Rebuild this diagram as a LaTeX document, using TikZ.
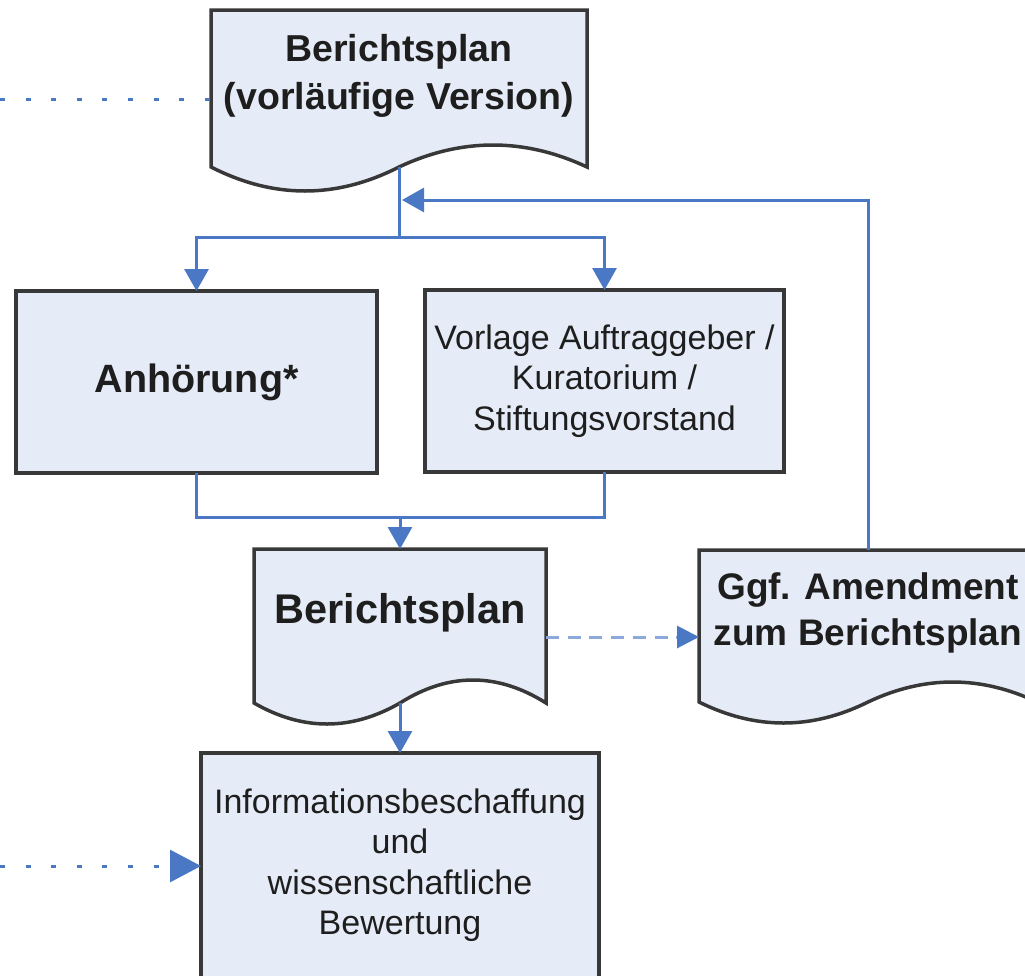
\documentclass[tikz,border=0pt]{standalone}
\usepackage{fontspec}
\setmainfont{Liberation Sans}
\usetikzlibrary{arrows.meta,calc}
\definecolor{boxfill}{HTML}{E6ECF7}
\definecolor{boxline}{HTML}{383838}
\definecolor{conn}{HTML}{4A78C4}
\definecolor{connlight}{HTML}{8DA9DB}
\definecolor{txt}{HTML}{1E1E1E}
\newcommand\docpath[4]{%
  \draw[docline] (#1.north west) -- (#1.north east) -- (#1.south east)
    .. controls ($(#1.south east)+(-#2/6,-#3*4/3)$) and ($(#1.south east)+(-#2/3,-#3*4/3)$) .. (#1.south)
    .. controls ($(#1.south)+(-#2/6,#4*4/3)$) and ($(#1.south)+(-#2/3,#4*4/3)$) .. (#1.south west) -- cycle;}
\begin{document}
\begin{tikzpicture}[x=1pt,y=-1pt,
  shapebox/.style={rectangle, inner sep=0pt, outer sep=0pt},
  procbox/.style={rectangle, draw=boxline, fill=boxfill, line width=3.5pt, inner sep=0pt, outer sep=0pt, align=center, text=txt},
  docline/.style={draw=boxline, fill=boxfill, line width=3.5pt},
  boldtxt/.style={font=\fontsize{37.5}{48}\selectfont\bfseries, align=center, text=txt, inner sep=0pt},
  regtxt/.style={font=\fontsize{34}{40.5}\selectfont, align=center, text=txt, inner sep=0pt},
  flow/.style={draw=conn, line width=3pt},
  flowarr/.style={flow, -{Triangle[length=22pt,width=24pt]}},
  dotline/.style={draw=conn, line width=3pt, dash pattern=on 5pt off 20.6pt},
  dotarr/.style={dotline, -{Triangle[length=31pt,width=32pt]}},
  dasharr/.style={draw=connlight, line width=3pt, dash pattern=on 13pt off 8.7pt, -{Triangle[length=22pt,width=22pt,color=conn]}}
]
\useasboundingbox (0,0) rectangle (1025,975);

% top document
\node[shapebox, minimum width=376pt, minimum height=157pt] (prelim) at (399,88.5) {};
\docpath{prelim}{376}{22}{24}
\node[boldtxt] (prelimtext) at (399,76) {Berichtsplan\\(vorläufige Version)};

% two process boxes
\node[procbox, minimum width=361pt, minimum height=182pt, font=\fontsize{39.5}{48}\selectfont\bfseries] (anh) at (196.5,382) {Anhörung*};
\node[procbox, minimum width=359pt, minimum height=182pt, font=\fontsize{34}{40.5}\selectfont] (vorl) at (604.5,381) {Vorlage Auftraggeber /\\Kuratorium /\\Stiftungsvorstand};

% Berichtsplan document
\node[shapebox, minimum width=292pt, minimum height=154pt] (plan) at (400,626) {};
\docpath{plan}{292}{23}{21}
\node[boldtxt, font=\fontsize{41.5}{48}\selectfont\bfseries] (plantext) at (400,613) {Berichtsplan};

% Amendment document
\node[shapebox, minimum width=338pt, minimum height=152pt] (amend) at (868,626) {};
\docpath{amend}{338}{20}{21}
\node[boldtxt, font=\fontsize{37}{46}\selectfont\bfseries] (amendtext) at (868,613) {Ggf. Amendment\\zum Berichtsplan};

% information box
\node[procbox, minimum width=398pt, minimum height=237pt] (info) at (400,871.5) {};
\node[regtxt] (infotext) at (400,865) {Informationsbeschaffung\\und\\wissenschaftliche\\Bewertung};

% helper coordinates
\coordinate (split) at (399,237);
\coordinate (join) at (400,517);
\coordinate (backin) at (402,200);
\coordinate (dashy) at (620,637);
\coordinate (lefttop) at (0,99);
\coordinate (leftbot) at (0,866);

% connectors
\draw[flow] (prelim.south) -- (split);
\draw[flowarr] (split) -| (anh.north);
\draw[flowarr] (split) -| (vorl.north);
\draw[flow] (anh.south) |- (join);
\draw[flow] (vorl.south) |- (join);
\draw[flowarr] (join) -- (plan.north);
\draw[flowarr] (plan.south) -- (info.north);
\draw[flowarr] (amend.north) |- (backin);
\draw[dasharr] (plan.east |- dashy) -- (amend.west |- dashy);
\draw[dotline] (lefttop) -- (lefttop -| prelim.west);
\draw[dotarr] (leftbot) -- (leftbot -| info.west);
\end{tikzpicture}
\end{document}
